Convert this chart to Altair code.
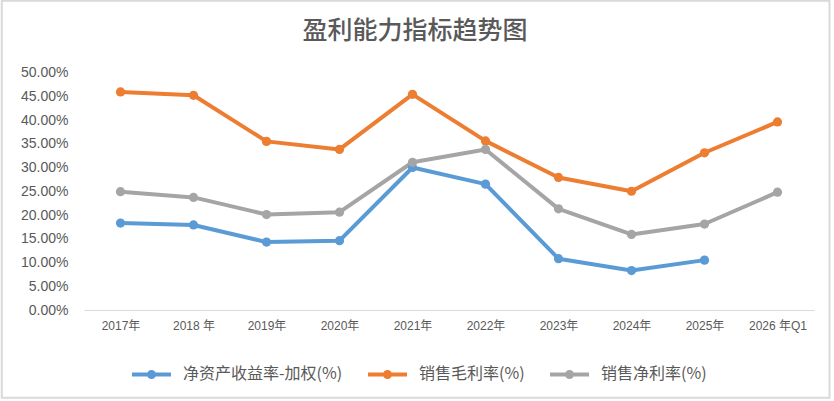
import altair as alt
import pandas as pd

categories = ["2017年", "2018 年", "2019年", "2020年", "2021年", "2022年", "2023年", "2024年", "2025年", "2026 年Q1"]
series_names = ["净资产收益率-加权(%)", "销售毛利率(%)", "销售净利率(%)"]
roe = [18.3, 17.9, 14.3, 14.6, 30.0, 26.5, 10.8, 8.3, 10.5, None]
gross = [45.9, 45.2, 35.5, 33.8, 45.4, 35.6, 27.9, 25.0, 33.1, 39.6]
net = [24.9, 23.7, 20.1, 20.6, 31.1, 33.8, 21.3, 15.9, 18.1, 24.8]
colors = ["#5B9BD5", "#ED7D31", "#A5A5A5"]
y_ticks = [0, 0.05, 0.10, 0.15, 0.20, 0.25, 0.30, 0.35, 0.40, 0.45, 0.50]
title_text = "盈利能力指标趋势图"

rows = []
for name, vals in zip(series_names, [roe, gross, net]):
    for c, v in zip(categories, vals):
        rows.append({"cat": c, "series": name, "value": None if v is None else v / 100.0,
                     "order": series_names.index(name)})
df = pd.DataFrame(rows)

x_enc = alt.X("cat:N", sort=categories,
              scale=alt.Scale(type="point", padding=0.5),
              axis=alt.Axis(title=None, labelAngle=0, ticks=False, domainColor="#d9d9d9",
                            domainWidth=1, labelFontSize=12, labelColor="#595959",
                            labelPadding=10, labelFont="Liberation Sans, 'Noto Sans CJK SC'"))
y_enc = alt.Y("value:Q", scale=alt.Scale(domain=[0, 0.5], nice=False),
              axis=alt.Axis(title=None, values=y_ticks, format=".2%", grid=False, domain=False,
                            ticks=False, labelFontSize=14, labelColor="#595959", labelPadding=16,
                            labelFont="Liberation Sans"))
color_enc = alt.Color("series:N", scale=alt.Scale(domain=series_names, range=colors),
                      legend=alt.Legend(title=None, orient="none", direction="horizontal",
                                        legendX=46, legendY=280,
                                        symbolType="M-1,0L1,0M-0.13,0a0.13,0.13 0 1,0 0.26,0a0.13,0.13 0 1,0 -0.26,0",
                                        symbolSize=1521, symbolStrokeWidth=4,
                                        labelFontSize=16, labelColor="#595959",
                                        labelFont="Noto Sans CJK SC", labelOffset=10,
                                        columnPadding=17))

base = alt.Chart(df).encode(x=x_enc, y=y_enc, color=color_enc, order=alt.Order("order:Q"))
lines = base.mark_line(strokeWidth=4, strokeJoin="round", strokeCap="round")
points = base.transform_filter("datum.value != null").mark_point(filled=True, size=85, opacity=1)

border = alt.Chart(pd.DataFrame({"a": [0]})).mark_rect(
    fill=None, stroke="#d9d9d9", strokeWidth=2, clip=False
).encode(x=alt.value(-82.2), x2=alt.value(745.5), y=alt.value(-71.7), y2=alt.value(325.2))

title = alt.Chart(pd.DataFrame({"t": [title_text]})).mark_text(
    fontSize=25, color="#595959", font="Noto Sans CJK SC", align="center", baseline="middle",
    fontWeight=500
).encode(text="t:N", x=alt.value(331), y=alt.value(-41.5))

chart = alt.layer(border, title, lines, points).properties(
    width=730, height=237.5,
    autosize=alt.AutoSizeParams(type="none"),
    padding={"left": 84, "top": 72.5, "right": 20, "bottom": 91},
    background="white",
).configure_view(stroke=None)

chart.save("out.html", embed_options={"renderer": "svg", "actions": False})
